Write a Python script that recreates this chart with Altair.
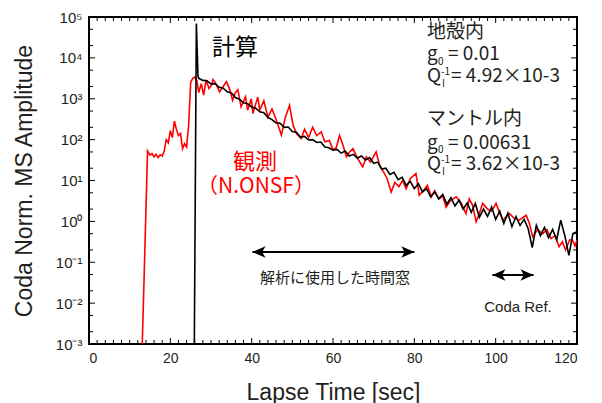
import altair as alt
import pandas as pd

# ---------------- data ----------------
# observed trace (red, N.ONSF): lapse time [s] and coda-normalized MS amplitude
obs_t = [13.1, 14.4, 15, 15.5, 16, 16.5, 17, 17.5, 18, 18.5,
         19, 19.5, 20, 20.5, 21, 21.5, 22, 22.5, 23, 23.5,
         24, 24.5, 25, 25.5, 26, 26.5, 27, 27.6, 28.2, 28.8,
         29.5, 30.1, 30.5, 31.3, 32.1, 33, 33.8, 34.6, 35.3, 36,
         36.6, 37.4, 38.5, 39, 39.9, 40.3, 41.5, 42, 43, 44,
         45, 46, 47.3, 48.3, 49.3, 50.2, 51, 52.2, 53, 54,
         55, 56, 57.1, 58, 59.1, 60, 60.8, 61.6, 62.5, 63.3,
         64.1, 64.9, 66, 67.3, 68.2, 69.2, 70.6, 71.5, 72.5, 73.3,
         74.3, 75.2, 76.2, 77.1, 78, 79, 80.4, 81.2, 82.2, 83.2,
         84.2, 85, 86, 87, 87.8, 88.8, 90.3, 91.5, 92.7, 93.5,
         94.3, 95.2, 96, 96.8, 98, 99, 100.1, 101, 101.8, 102.6,
         103.4, 104.5, 105.8, 107.5, 108.3, 109.1, 110.3, 111.6, 112.6, 113.6,
         114.6, 115.6, 116.4, 117.2, 118.2, 118.9, 119.5, 120]
obs_v = [0.001, 52.5, 41.7, 45.7, 38.0, 43.7, 36.3, 42.7, 39.8, 52.5,
         100, 83.2, 166, 112, 282, 178, 126, 141, 60.3, 79.4,
         66.1, 224, 2510, 3160, 3390, 2820, 1410, 2340, 1230, 2880,
         1780, 2140, 2950, 2240, 1480, 2000, 2630, 1700, 912, 1410,
         1660, 631, 1120, 525, 1000, 437, 1100, 525, 891, 355,
         562, 316, 129, 355, 692, 224, 141, 107, 178, 112,
         200, 126, 155, 89.1, 95.5, 56.2, 63.1, 126, 70.8, 38.0,
         50.1, 60.3, 35.5, 21.4, 38.0, 28.2, 50.1, 22.4, 15.8, 11.2,
         5.25, 8.91, 7.08, 10.0, 6.31, 11.2, 14.8, 4.37, 5.62, 7.59,
         3.98, 5.62, 3.55, 4.17, 2.24, 3.16, 3.98, 2.82, 1.55, 3.55,
         2.51, 0.977, 1.58, 2.75, 2.00, 1.78, 2.75, 1.58, 1.07, 1.32,
         1.55, 1.20, 1.07, 1.41, 0.891, 0.417, 0.631, 0.501, 0.631, 0.380,
         0.447, 0.240, 0.316, 0.200, 0.355, 0.347, 0.251, 0.355]

# computed trace (black)
calc_t = [25.9, 26.4, 26.8] + list(range(27, 121))
calc_v = [0.001, 69000, 3550,
          3160, 2820, 2750, 2290, 2340, 1910, 1820, 1480, 1380, 1070,
          977, 794, 759, 631, 589, 479, 457, 347, 309, 257,
          251, 200, 204, 158, 151, 115, 120, 97.7, 100, 85.1,
          87.1, 66.1, 63.1, 55.0, 57.5, 46.8, 52.5, 39.8, 43.7, 35.5,
          39.8, 31.6, 36.3, 26.3, 28.2, 19.1, 20.0, 14.1, 15.8, 10.5,
          12.0, 7.59, 9.55, 6.31, 8.32, 5.25, 6.31, 3.98, 5.25, 3.55,
          4.57, 2.63, 3.80, 2.40, 3.31, 2.00, 2.82, 1.66, 2.75, 1.26,
          2.00, 1.32, 2.24, 1.12, 1.78, 0.891, 1.58, 0.741, 1.32, 0.794,
          1.12, 0.661, 0.229, 0.794, 0.447, 0.708, 0.398, 0.631, 0.355, 1.07,
          0.447, 0.148, 0.501, 0.562]

# time windows marked with arrows [s]
window_start = [40.2, 99.2]
window_end = [80.0, 109.3]

# axis ticks
x_major = [0, 20, 40, 60, 80, 100, 120]
x_minor = [v for v in range(0, 121, 2) if v % 20 != 0]
y_major = [0.001, 0.01, 0.1, 1, 10, 100, 1000, 10000, 100000]
y_minor = [m * d for d in [0.001, 0.01, 0.1, 1, 10, 100, 1000, 10000] for m in (2, 5)]

# ---------------- chart ----------------
W, H = 488, 327
JP = "Noto Sans CJK JP"
LAT = "Liberation Sans"
INK = "#231f20"

xs = alt.Scale(domain=[0, 120], nice=False, zero=False)
ys = alt.Scale(type="log", domain=[0.001, 100000], nice=False)

sup = "['\u207b\u00b3','\u207b\u00b2','\u207b\u00b9','\u2070','\u00b9','\u00b2','\u00b3','\u2074','\u2075'][round(log(datum.value)/LN10)+3]"

X_AXIS = alt.Axis(values=x_major, ticks=False, tickSize=0, domain=False, grid=False,
                  labelPadding=7, format="d", title="Lapse Time [sec]", titlePadding=16)
Y_AXIS = alt.Axis(values=y_major, ticks=False, tickSize=0, domain=False, grid=False,
                  labelPadding=7, labelExpr="'10' + " + sup, labelFontSize=15,
                  title="Coda Norm. MS Amplitude", titlePadding=19)


def X(field):
    return alt.X(field, type="quantitative", scale=xs, axis=X_AXIS)


def Y(field):
    return alt.Y(field, type="quantitative", scale=ys, axis=Y_AXIS)


obs_df = pd.DataFrame({"t": obs_t, "v": obs_v})
calc_df = pd.DataFrame({"t": calc_t, "v": calc_v})

obs_line = alt.Chart(obs_df).mark_line(color="#ff0000", strokeWidth=1.6, clip=True).encode(
    x=X("t"), y=Y("v"))
calc_line = alt.Chart(calc_df).mark_line(color="#000000", strokeWidth=1.6, clip=True).encode(
    x=X("t"), y=Y("v"))


def xticks(vals, length):
    d = pd.DataFrame({"t": vals})
    bottom = alt.Chart(d).mark_rule(color="black", strokeWidth=1).encode(
        x=X("t"), y=alt.value(H), y2=alt.value(H - length))
    top = alt.Chart(d).mark_rule(color="black", strokeWidth=1).encode(
        x=X("t"), y=alt.value(0), y2=alt.value(length))
    return [bottom, top]


def yticks(vals, length):
    d = pd.DataFrame({"v": vals})
    left = alt.Chart(d).mark_rule(color="black", strokeWidth=1).encode(
        y=Y("v"), x=alt.value(0), x2=alt.value(length))
    right = alt.Chart(d).mark_rule(color="black", strokeWidth=1).encode(
        y=Y("v"), x=alt.value(W), x2=alt.value(W - length))
    return [left, right]


tick_layers = xticks(x_major, 6) + xticks(x_minor, 4) + yticks(y_major, 6) + yticks(y_minor, 4)

# arrows
HEAD = 169
half_units = (HEAD ** 0.5 / 2) / (W / 120.0)
LEFT_HEAD = "M-1,0L1,-0.9L0.5,0L1,0.9Z"
RIGHT_HEAD = "M1,0L-1,-0.9L-0.5,0L-1,0.9Z"


def arrow(start, end, py):
    d = pd.DataFrame({"t": [start], "e": [end],
                      "hs": [start + half_units], "he": [end - half_units]})
    shaft = alt.Chart(d).mark_rule(color="black", strokeWidth=2).encode(
        x=X("t"), x2="e:Q", y=alt.value(py))
    lh = alt.Chart(d).mark_point(shape=LEFT_HEAD, size=HEAD, filled=True, color="black", opacity=1).encode(
        x=X("hs"), y=alt.value(py))
    rh = alt.Chart(d).mark_point(shape=RIGHT_HEAD, size=HEAD, filled=True, color="black", opacity=1).encode(
        x=X("he"), y=alt.value(py))
    return [shaft, lh, rh]


arrow_layers = arrow(window_start[0], window_end[0], 235) + arrow(window_start[1], window_end[1], 258)

dummy = pd.DataFrame({"k": [0]})


def label(text, px, py, size, color=INK, font=JP, align="left", baseline="alphabetic"):
    return alt.Chart(dummy).mark_text(text=text, fontSize=size, font=font, color=color,
                                      align=align, baseline=baseline).encode(
        x=alt.value(px), y=alt.value(py))


RX = 338
texts = [
    label("計算", 146, 31, 23, color="#000000", align="center", baseline="middle"),
    label("観測", 166, 145, 22, color="#ff0000", align="center", baseline="middle"),
    label("（N.ONSF）", 167, 170, 21, color="#ff0000", align="center", baseline="middle"),
    label("地殻内", RX, 15, 19, baseline="middle"),
    label("g", RX, 43.3, 19),
    label("0", RX + 11, 47.5, 10),
    label("= 0.01", RX + 21, 43.3, 19),
    label("Q", RX, 65, 19),
    label("-1", RX + 14, 57.5, 10),
    label("I", RX + 15, 69.5, 10),
    label("= 4.92×10-3", RX + 24, 65, 19),
    label("マントル内", RX, 102, 19, baseline="middle"),
    label("g", RX, 131.6, 19),
    label("0", RX + 11, 135.8, 10),
    label("= 0.00631", RX + 21, 131.6, 19),
    label("Q", RX, 153.3, 19),
    label("-1", RX + 14, 145.8, 10),
    label("I", RX + 15, 157.8, 10),
    label("= 3.62×10-3", RX + 24, 153.3, 19),
    label("解析に使用した時間窓", 246, 261, 15, align="center", baseline="middle"),
    label("Coda Ref.", 429, 290, 15, font=LAT, align="center", baseline="middle"),
]

chart = alt.layer(obs_line, calc_line, *tick_layers, *arrow_layers, *texts).properties(
    width=W, height=H,
    autosize=alt.AutoSizeParams(type="none"),
    padding={"left": 81, "top": 9, "right": 17, "bottom": 59},
).configure_axis(
    labelFont=LAT, labelFontSize=14, labelColor=INK,
    titleFont=LAT, titleFontSize=23, titleFontWeight="normal", titleColor=INK,
).configure_view(stroke="#000000", strokeWidth=2)

chart.save("out.html", embed_options={"renderer": "svg", "actions": False})
